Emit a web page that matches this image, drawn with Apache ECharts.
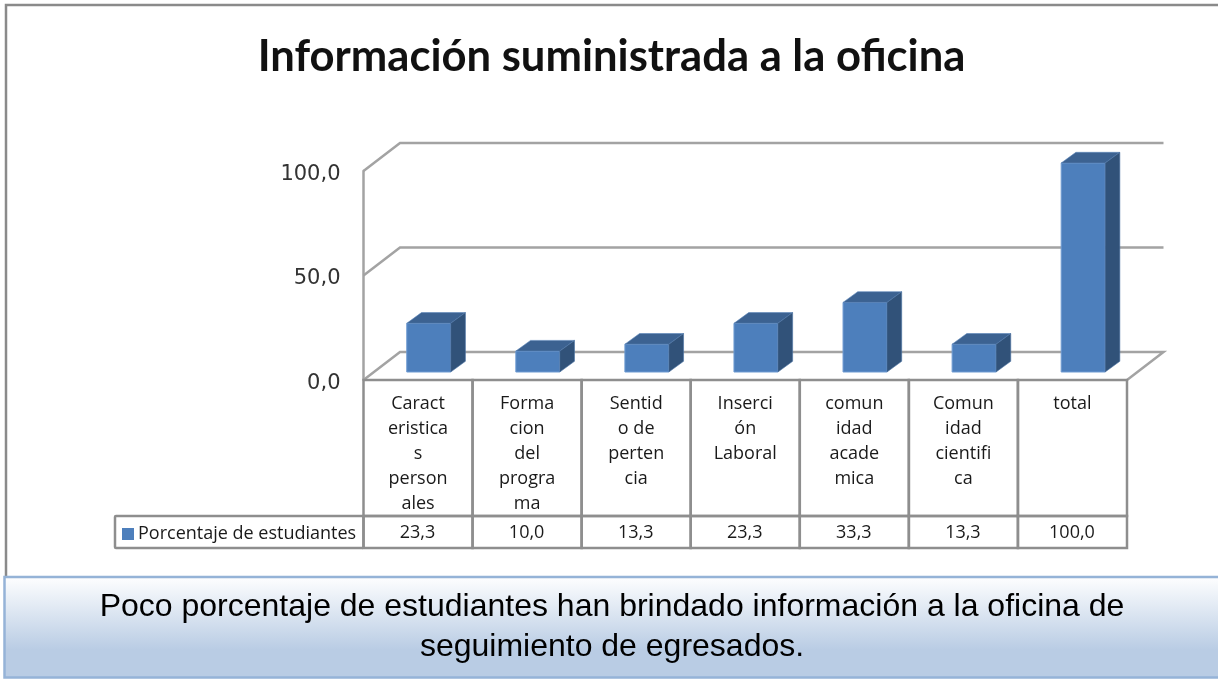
<!DOCTYPE html>
<html>
<head>
<meta charset="utf-8">
<title>Información suministrada a la oficina</title>
<script src="https://cdn.jsdelivr.net/npm/echarts@6/dist/echarts.min.js"></script>
<style>
  html, body { margin: 0; padding: 0; background: #fff; }
  #chart { width: 1218px; height: 679px; }
</style>
</head>
<body>
<div id="chart"></div>
<script>
const categories = [
  'Caract\neristica\ns\nperson\nales',
  'Forma\ncion\ndel\nprogra\nma',
  'Sentid\no de\nperten\ncia',
  'Inserci\nón\nLaboral',
  'comun\nidad\nacade\nmica',
  'Comun\nidad\ncientifi\nca',
  'total'
]
const porcentaje = [23.3, 10.0, 13.3, 23.3, 33.3, 13.3, 100.0]
const yTicks = [0, 50, 100]
const seriesName = 'Porcentaje de estudiantes'
const chartTitle = 'Información suministrada a la oficina'
const footerLines = 'Poco porcentaje de estudiantes han brindado información a la oficina de\nseguimiento de egresados.'

const fmt = v => v.toFixed(1).replace('.', ',')
const lineColor = '#a3a3a3'
const tableColor = '#8e8e8e'
const textColor = '#1a1a1a'

const myChart = echarts.init(document.getElementById('chart'), null, { renderer: 'canvas' })

// paredes y piso del grafico 3D
function renderWall(params, api) {
  const box = params.coordSys
  const y = api.coord([0, api.value(1)])[1]
  const x0 = box.x
  const x1 = box.x + box.width
  const dx = 36.5
  const dy = 28
  const pts = [[x0, y], [x0 + dx, y - dy], [x1 + dx, y - dy]]
  if (api.value(1) === 0) pts.push([x1, y])
  return {
    type: 'polyline',
    shape: { points: pts },
    style: { fill: null, stroke: lineColor, lineWidth: 2.5 }
  }
}

// barra: cara frontal, tapa y lateral
function renderBar(params, api) {
  const i = api.value(0)
  const base = api.coord([i, 0])
  const top = api.coord([i, api.value(1)])
  const w = api.size([1, 0])[0] * 0.403
  const sx = 10.7
  const sy = -8
  const dx = 14.7
  const dy = -10.7
  const l = base[0] + sx - w / 2
  const r = l + w
  const b = base[1] + sy
  const t = top[1] + sy
  return {
    type: 'group',
    children: [
      {
        type: 'rect',
        shape: { x: l, y: t, width: w, height: b - t },
        style: { fill: '#4d7fbc', stroke: '#6f9bd2', lineWidth: 1 }
      },
      {
        type: 'polygon',
        shape: { points: [[l, t], [l + dx, t + dy], [r + dx, t + dy], [r, t]] },
        style: { fill: '#3c6291', stroke: '#5b84b8', lineWidth: 0.6 }
      },
      {
        type: 'polygon',
        shape: { points: [[r, t], [r + dx, t + dy], [r + dx, b + dy], [r, b]] },
        style: { fill: '#315279', stroke: '#4b73a5', lineWidth: 0.6 }
      }
    ]
  }
}

// celdas de la tabla de datos
function renderCell(params, api) {
  const i = api.value(0)
  const c = api.coord([i, 0])
  const w = api.size([1, 0])[0]
  const l = c[0] - w / 2
  const y0 = c[1]
  const s = { fill: null, stroke: tableColor, lineWidth: 2.5 }
  return {
    type: 'group',
    children: [
      { type: 'rect', shape: { x: l, y: y0, width: w, height: 136 }, style: s },
      { type: 'rect', shape: { x: l, y: y0 + 136, width: w, height: 32 }, style: s },
      {
        type: 'text',
        style: {
          x: c[0] - 0.5, y: y0 + 153, text: fmt(api.value(1)),
          font: '500 18px "Open Sans"', fill: textColor,
          align: 'center', verticalAlign: 'middle'
        }
      }
    ]
  }
}

myChart.setOption({
  animation: false,
  backgroundColor: '#fff',
  title: {
    text: chartTitle,
    left: 606.5,
    top: 30,
    textAlign: 'center',
    textStyle: { fontFamily: 'Lato', fontWeight: 'bold', fontSize: 43.6, color: '#111' }
  },
  legend: {
    left: 117,
    top: 520,
    itemWidth: 12,
    itemHeight: 12,
    itemGap: 0,
    icon: 'rect',
    selectedMode: false,
    data: [seriesName],
    textStyle: { fontFamily: 'Open Sans', fontWeight: 500, fontSize: 18, color: textColor, padding: [0, 0, 0, -1] }
  },
  grid: { left: 363.5, top: 171, width: 763.5, height: 209 },
  xAxis: {
    type: 'category',
    data: categories,
    axisLine: { show: false },
    axisTick: { show: false },
    axisLabel: {
      interval: 0,
      margin: 11,
      fontFamily: 'Open Sans',
      fontWeight: 500,
      fontSize: 18,
      lineHeight: 25,
      color: textColor,
      verticalAlign: 'top'
    }
  },
  yAxis: {
    type: 'value',
    min: 0,
    max: 100,
    interval: 50,
    splitLine: { show: false },
    axisTick: { show: false },
    axisLine: { show: true, lineStyle: { color: lineColor, width: 2.5 } },
    axisLabel: {
      margin: 23,
      verticalAlign: 'top',
      lineHeight: 7,
      fontFamily: 'DejaVu Sans',
      fontSize: 21,
      color: '#333',
      formatter: fmt
    }
  },
  series: [
    {
      type: 'custom',
      name: 'paredes',
      renderItem: renderWall,
      data: yTicks.map(v => [0, v]),
      encode: { x: 0, y: 1 },
      silent: true,
      z: 1
    },
    {
      type: 'custom',
      name: 'tabla',
      renderItem: renderCell,
      data: porcentaje.map((v, i) => [i, v]),
      encode: { x: 0 },
      silent: true,
      z: 1
    },
    {
      type: 'custom',
      name: seriesName,
      renderItem: renderBar,
      data: porcentaje.map((v, i) => [i, v]),
      encode: { x: 0, y: 1 },
      itemStyle: { color: '#4d7fbc' },
      z: 3
    }
  ],
  graphic: [
    // marco exterior: solo izquierda y arriba
    {
      type: 'polyline', z: -1,
      shape: { points: [[6, 580], [6, 5], [1218, 5]] },
      style: { fill: null, stroke: '#8a8a8a', lineWidth: 2.5 }
    },
    // celda de la leyenda
    {
      type: 'rect', z: 2,
      shape: { x: 115, y: 516, width: 248.5, height: 32, r: 1 },
      style: { fill: null, stroke: tableColor, lineWidth: 2.5 }
    },
    // recuadro inferior
    {
      type: 'rect', z: 10,
      shape: { x: 4.5, y: 577, width: 1218, height: 100.5 },
      style: {
        fill: new echarts.graphic.LinearGradient(0, 0, 0, 1, [
          { offset: 0, color: '#ffffff' },
          { offset: 0.72, color: '#b9cce4' },
          { offset: 1, color: '#b9cce4' }
        ]),
        stroke: '#95b3d7',
        lineWidth: 2.5
      }
    },
    {
      type: 'text', z: 11,
      style: {
        x: 612, y: 627,
        text: footerLines,
        font: '32px "Liberation Sans"',
        lineHeight: 40,
        fill: '#000',
        align: 'center',
        verticalAlign: 'middle'
      }
    }
  ]
})
</script>
</body>
</html>
